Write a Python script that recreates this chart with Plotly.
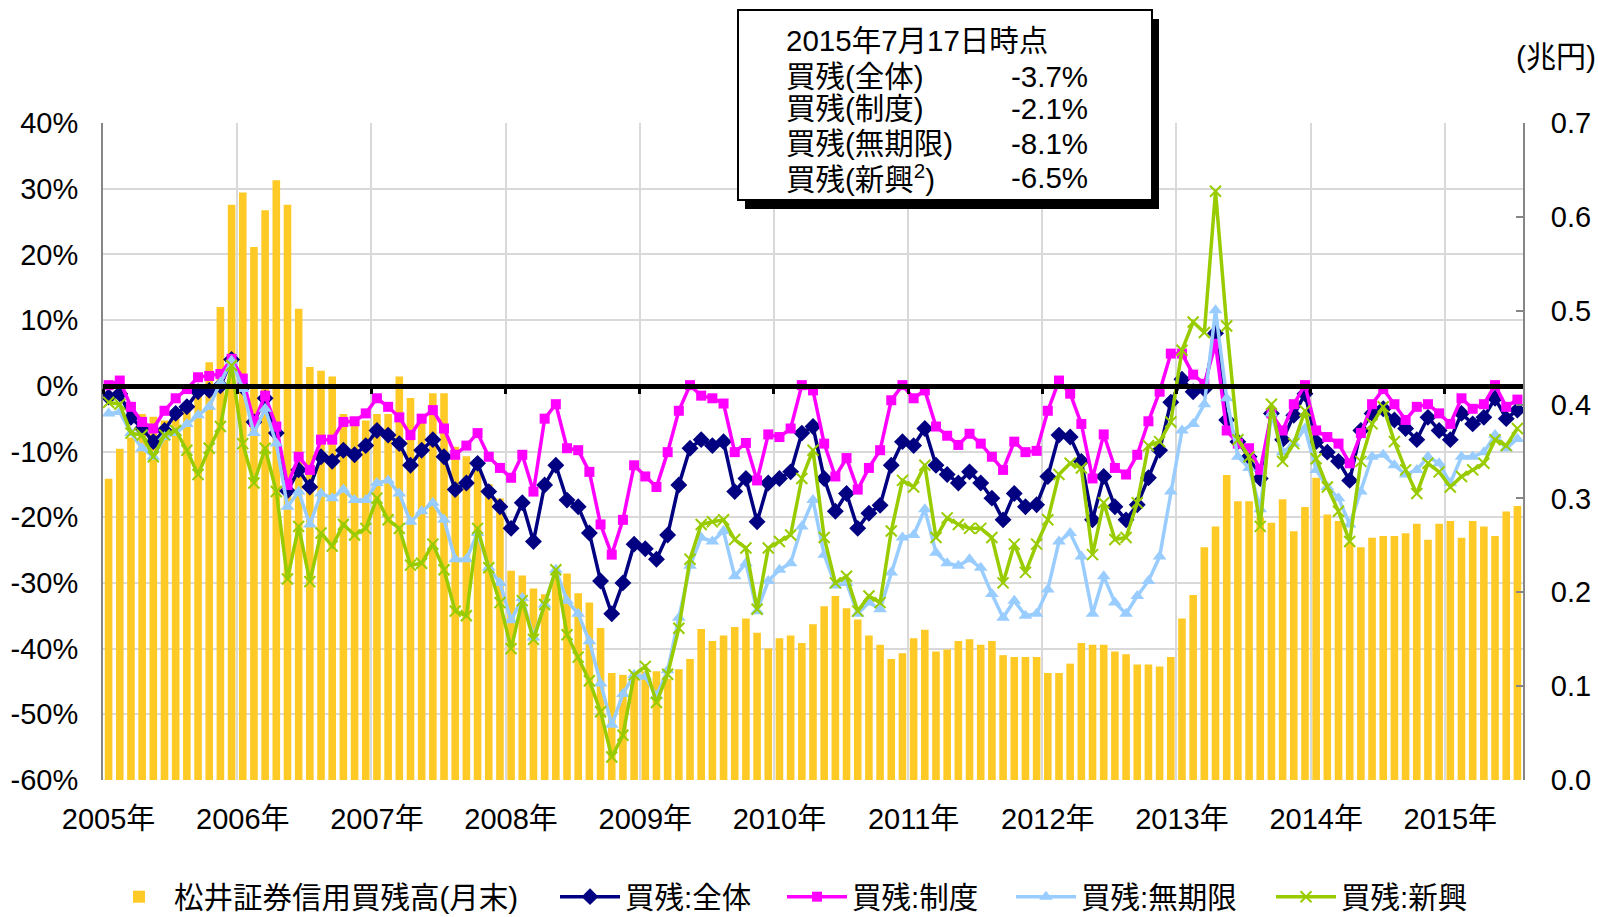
import plotly.graph_objects as go

# ---------------- data (monthly, Jan 2005 .. Jul 2015) ----------------
months = list(range(127))
year_labels = ["2005年", "2006年", "2007年", "2008年", "2009年", "2010年",
               "2011年", "2012年", "2013年", "2014年", "2015年"]
year_ticks = [0, 12, 24, 36, 48, 60, 72, 84, 96, 108, 120]
year_bounds = [-0.5, 11.5, 23.5, 35.5, 47.5, 59.5, 71.5, 83.5, 95.5, 107.5, 119.5]

# 松井証券信用買残高(月末)  (兆円)
balance = [
    0.321, 0.353, 0.365, 0.390, 0.387, 0.383, 0.390, 0.400, 0.412, 0.445, 0.504, 0.613,
    0.626, 0.568, 0.607, 0.639, 0.613, 0.502, 0.440, 0.436, 0.430, 0.390, 0.387, 0.383,
    0.390, 0.390, 0.430, 0.407, 0.390, 0.412, 0.412, 0.355, 0.345, 0.330, 0.315, 0.300,
    0.223, 0.218, 0.204, 0.198, 0.220, 0.220, 0.199, 0.189, 0.162, 0.114, 0.112, 0.114,
    0.116, 0.116, 0.108, 0.118, 0.129, 0.161, 0.148, 0.154, 0.163, 0.172, 0.157, 0.140,
    0.151, 0.154, 0.146, 0.166, 0.185, 0.196, 0.183, 0.171, 0.154, 0.144, 0.129, 0.135,
    0.151, 0.160, 0.137, 0.139, 0.148, 0.150, 0.144, 0.148, 0.133, 0.131, 0.131, 0.131,
    0.114, 0.114, 0.124, 0.146, 0.144, 0.144, 0.137, 0.134, 0.123, 0.123, 0.121, 0.131,
    0.172, 0.197, 0.248, 0.270, 0.325, 0.297, 0.297, 0.280, 0.274, 0.299, 0.265, 0.291,
    0.322, 0.283, 0.276, 0.253, 0.248, 0.258, 0.260, 0.260, 0.263, 0.273, 0.256, 0.273,
    0.276, 0.258, 0.276, 0.270, 0.260, 0.286, 0.292,
]

# 買残:全体 (%)
zentai = [
    -1.7, -1.2, -4.8, -6.5, -8.5, -6.8, -4.2, -3.2, -0.9, -0.7, 0.0, 4.0,
    -0.2, -5.5, -1.9, -7.2, -16.0, -12.8, -15.4, -10.8, -11.5, -9.8, -10.5, -9.1,
    -6.8, -7.5, -8.8, -12.1, -9.8, -8.2, -10.8, -15.8, -14.8, -11.8, -16.1, -18.4,
    -21.7, -17.8, -23.7, -15.1, -12.1, -17.4, -18.4, -22.4, -29.7, -34.7, -30.0, -24.1,
    -24.8, -26.4, -22.7, -15.1, -9.5, -8.2, -9.1, -8.5, -16.1, -14.1, -20.7, -14.8,
    -14.1, -13.1, -7.2, -6.2, -14.1, -19.1, -16.4, -21.7, -19.4, -18.2, -12.1, -8.5,
    -9.1, -6.5, -12.1, -13.5, -14.8, -13.1, -14.8, -17.1, -20.4, -16.4, -18.4, -18.1,
    -13.8, -7.5, -7.8, -11.5, -20.4, -13.8, -18.4, -20.4, -18.1, -14.0, -9.8, -2.5,
    1.0, -0.9, -0.5, 8.0, -5.2, -8.5, -10.8, -14.1, -4.2, -8.2, -4.5, -1.2,
    -8.5, -10.1, -11.5, -14.4, -6.8, -4.2, -3.5, -5.2, -6.5, -8.2, -4.8, -6.8,
    -8.2, -4.2, -5.8, -4.8, -1.9, -5.0, -3.7,
]

# 買残:制度 (%)
seido = [
    0.1, 0.8, -3.2, -5.5, -6.5, -3.8, -1.9, -0.5, 1.3, 1.5, 1.8, 4.1,
    1.1, -5.5, -1.5, -6.2, -15.1, -10.8, -12.8, -8.2, -8.2, -5.5, -5.4, -4.2,
    -1.9, -3.2, -4.8, -7.5, -5.0, -3.7, -6.5, -10.5, -9.1, -7.2, -10.8, -12.5,
    -14.0, -10.5, -16.1, -5.0, -2.8, -9.5, -9.8, -13.1, -21.1, -25.7, -20.4, -12.1,
    -13.8, -15.4, -10.1, -3.8, 0.1, -1.5, -1.9, -2.7, -10.1, -8.7, -14.4, -7.4,
    -7.8, -6.5, 0.1, -0.7, -8.8, -13.8, -11.0, -15.8, -12.5, -9.8, -2.2, 0.1,
    -1.9, -0.7, -6.2, -7.6, -9.0, -7.3, -8.8, -10.8, -12.8, -8.5, -10.1, -9.9,
    -3.8, 0.8, -1.2, -5.8, -14.1, -7.4, -12.5, -13.5, -10.5, -5.4, -0.9, 4.9,
    4.9, 1.7, 0.3, 6.4, -6.8, -8.8, -9.5, -12.8, -4.2, -6.8, -2.8, 0.1,
    -6.8, -7.8, -8.8, -11.8, -7.2, -2.8, -0.5, -2.8, -5.2, -3.2, -2.8, -4.2,
    -5.8, -1.9, -3.5, -2.8, 0.1, -3.2, -2.1,
]

# 買残:無期限 (%)
mukigen = [
    -4.2, -4.0, -7.2, -9.5, -10.8, -7.8, -7.2, -5.8, -4.5, -3.2, 0.5, 3.8,
    -0.5, -7.2, -3.5, -8.8, -18.4, -16.1, -21.1, -16.4, -17.1, -15.8, -17.4, -17.4,
    -14.8, -14.4, -16.4, -20.7, -19.1, -17.8, -20.4, -26.4, -26.4, -22.4, -27.7, -30.0,
    -35.7, -32.3, -38.3, -33.3, -28.0, -32.7, -34.7, -38.9, -45.3, -51.6, -46.9, -44.0,
    -44.3, -47.2, -43.3, -35.3, -27.4, -23.1, -23.7, -22.1, -29.0, -27.0, -34.3, -29.7,
    -28.0, -27.0, -21.4, -17.4, -25.7, -30.4, -30.0, -34.7, -33.0, -34.0, -28.4, -23.1,
    -22.7, -18.8, -25.4, -27.0, -27.4, -26.4, -27.7, -31.7, -35.3, -32.7, -35.0, -34.7,
    -31.0, -23.7, -22.4, -26.0, -34.7, -29.0, -33.0, -34.7, -32.0, -29.7, -26.0, -16.1,
    -6.8, -5.8, -2.8, 11.5, -1.9, -10.8, -12.5, -18.8, -4.2, -10.1, -8.8, -6.5,
    -12.8, -15.4, -17.1, -21.1, -16.1, -10.8, -10.5, -12.1, -13.5, -12.8, -10.8, -11.8,
    -14.8, -10.8, -10.8, -10.1, -7.5, -9.5, -8.1,
]

# 買残:新興 (%)
shinko = [
    -2.5, -2.8, -7.2, -7.5, -10.8, -7.5, -6.8, -9.8, -13.5, -9.5, -6.2, 3.1,
    -8.8, -14.8, -9.5, -16.1, -29.4, -21.4, -29.8, -22.4, -24.4, -21.1, -22.7, -21.7,
    -17.1, -20.4, -21.7, -27.3, -27.0, -24.1, -28.0, -34.3, -35.0, -21.7, -27.7, -33.0,
    -40.0, -32.7, -38.6, -33.3, -28.0, -37.9, -41.3, -44.9, -49.6, -56.5, -53.2, -44.0,
    -42.7, -48.2, -43.9, -36.9, -26.4, -21.1, -20.7, -20.4, -23.4, -24.7, -34.0, -24.7,
    -23.7, -22.7, -14.1, -9.8, -23.1, -30.0, -29.0, -34.3, -32.0, -33.0, -22.1, -14.4,
    -15.4, -12.1, -23.1, -20.1, -21.1, -21.7, -21.7, -23.1, -30.0, -24.1, -28.4, -24.1,
    -20.4, -13.5, -11.8, -12.5, -25.7, -17.8, -23.4, -23.1, -17.8, -9.1, -8.5, -5.5,
    5.4, 9.7, 8.1, 29.6, 9.1, -8.2, -10.8, -21.4, -2.8, -11.5, -8.8, -3.8,
    -11.1, -15.4, -19.1, -23.7, -11.5, -5.8, -3.2, -8.5, -12.8, -16.4, -11.8, -13.1,
    -15.4, -13.8, -12.8, -11.8, -8.2, -9.1, -6.5,
]

pct_ticks = [-60, -50, -40, -30, -20, -10, 0, 10, 20, 30, 40]
pct_labels = ["-60%", "-50%", "-40%", "-30%", "-20%", "-10%", "0%", "10%", "20%", "30%", "40%"]
yen_ticks = [0.0, 0.1, 0.2, 0.3, 0.4, 0.5, 0.6, 0.7]

box_title = "2015年7月17日時点"
box_labels = ["買残(全体)", "買残(制度)", "買残(無期限)", "買残(新興<sup>2</sup>)"]
box_values = ["-3.7%", "-2.1%", "-8.1%", "-6.5%"]

# ---------------- styling ----------------
FONT = "Liberation Sans, Arial, Noto Sans CJK JP, sans-serif"
FS = 29
LFS = 29.5
GOLD = "#FFC926"
NAVY = "#000080"
MAGENTA = "#FF00FF"
LIGHTBLUE = "#99CCFF"
GREEN = "#99CC00"
GRID = "#D9D9D9"
AXIS = "#868686"

W, H = 1598, 917
L, R, T, B = 103, 75, 123, 137
PW, PH = W - L - R, H - T - B


def px(xp):
    return (xp - L) / PW


def py(yp):
    return (H - B - yp) / PH


fig = go.Figure()

fig.add_trace(go.Bar(
    x=months, y=balance, name="松井証券信用買残高(月末)",
    marker=dict(color=GOLD, line=dict(width=0)),
    xaxis="x", yaxis="y", legend="legend",
))

line_specs = [
    (zentai, "買残:全体", NAVY, dict(symbol="diamond", size=13, color=NAVY), "legend2"),
    (seido, "買残:制度", MAGENTA, dict(symbol="square", size=10, color=MAGENTA), "legend3"),
    (mukigen, "買残:無期限", LIGHTBLUE, dict(symbol="triangle-up", size=12, color=LIGHTBLUE), "legend4"),
    (shinko, "買残:新興", GREEN, dict(symbol="x-thin", size=11, color=GREEN,
                                      line=dict(color=GREEN, width=2)), "legend5"),
]
for vals, name, col, mk, lg in line_specs:
    fig.add_trace(go.Scatter(
        x=months, y=vals, name=name, mode="lines+markers",
        line=dict(color=col, width=3.5), marker=mk,
        xaxis="x2", yaxis="y2", legend=lg,
    ))


def legend_at(xpix, iw=60):
    return dict(
        orientation="h", x=px(xpix), xanchor="left", y=py(897), yanchor="middle",
        font=dict(family=FONT, size=LFS, color="black"),
        itemwidth=iw, bgcolor="rgba(0,0,0,0)", borderwidth=0,
    )


fig.update_layout(
    width=W, height=H,
    margin=dict(l=L, r=R, t=T, b=B, pad=0, autoexpand=False),
    paper_bgcolor="white", plot_bgcolor="white",
    font=dict(family=FONT, size=FS, color="black"),
    bargap=0.32,
    showlegend=True,
    legend=legend_at(104),
    legend2=legend_at(555),
    legend3=legend_at(782),
    legend4=legend_at(1011),
    legend5=legend_at(1271),
    xaxis=dict(
        range=[-0.5, 126.5], tickmode="array", tickvals=year_ticks, ticktext=year_labels,
        showgrid=False, zeroline=False, showline=False, ticks="",
        ticklabelstandoff=19, tickfont=dict(size=FS),
    ),
    xaxis2=dict(
        range=[-0.5, 126.5], overlaying="x", anchor="free", position=0.6,
        tickmode="array", tickvals=year_bounds, showticklabels=False,
        showgrid=True, gridcolor=GRID, gridwidth=1.5,
        zeroline=False, showline=True, linecolor="black", linewidth=5,
        ticks="outside", ticklen=5, tickwidth=3, tickcolor="black",
        layer="above traces",
    ),
    yaxis=dict(
        range=[0, 0.7], side="right", tickmode="array", tickvals=yen_ticks,
        tickformat=".1f", showgrid=False, zeroline=False,
        showline=True, linecolor=AXIS, linewidth=2,
        ticks="inside", ticklen=7, tickwidth=2, tickcolor=AXIS,
        ticklabelstandoff=20, tickfont=dict(size=FS),
    ),
    yaxis2=dict(
        range=[-60, 40], overlaying="y", side="left", anchor="x2",
        tickmode="array", tickvals=pct_ticks, ticktext=pct_labels,
        showgrid=True, gridcolor=GRID, gridwidth=1.5, zeroline=False,
        showline=True, linecolor=AXIS, linewidth=2, ticks="",
        ticklabelstandoff=17, tickfont=dict(size=FS),
    ),
)

# info box (shadow + framed box) as shapes; text as annotations above them
shapes = [
    dict(type="rect", xref="paper", yref="paper", layer="above",
         x0=px(745), x1=px(1159), y0=py(209), y1=py(19),
         fillcolor="black", line=dict(width=0)),
    dict(type="rect", xref="paper", yref="paper", layer="above",
         x0=px(738), x1=px(1152), y0=py(200), y1=py(10),
         fillcolor="white", line=dict(color="black", width=2)),
]
fig.update_layout(shapes=shapes)

annotations = []
annotations.append(dict(
    xref="paper", yref="paper", x=px(1556), y=py(57), xanchor="center", yanchor="middle",
    text="(兆円)", showarrow=False, font=dict(size=30),
))
annotations.append(dict(
    xref="paper", yref="paper", x=px(784), y=py(41), xanchor="left", yanchor="middle",
    text=box_title, showarrow=False, font=dict(size=29.5),
))
line_y = [76.5, 109, 143, 177]
for lab, val, yy in zip(box_labels, box_values, line_y):
    annotations.append(dict(
        xref="paper", yref="paper", x=px(784), y=py(yy), xanchor="left", yanchor="middle",
        text=lab, showarrow=False, font=dict(size=29.5),
    ))
    annotations.append(dict(
        xref="paper", yref="paper", x=px(1009), y=py(yy), xanchor="left", yanchor="middle",
        text=val, showarrow=False, font=dict(size=29.5),
    ))
fig.update_layout(annotations=annotations)

fig.write_html("out.html", config={"displayModeBar": False},
               post_script="document.body.style.margin='0';")
